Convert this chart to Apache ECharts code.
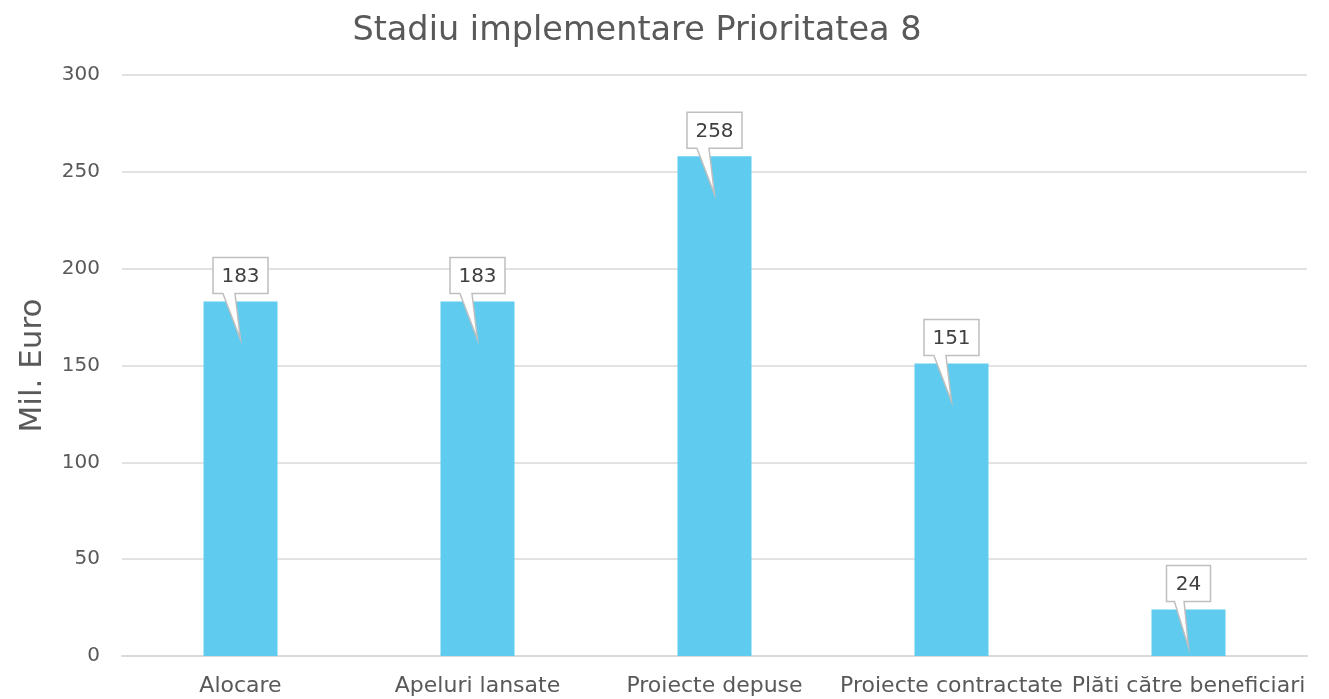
<!DOCTYPE html>
<html><head><meta charset="utf-8">
<script src="https://cdn.jsdelivr.net/npm/echarts@6/dist/echarts.min.js"></script>
<style>html,body{margin:0;padding:0;background:#fff}#c{width:1329px;height:699px}</style>
</head><body><div id="c"></div>
<script>
const categories = ['Alocare', 'Apeluri lansate', 'Proiecte depuse', 'Proiecte contractate', 'Plăti către beneficiari'];
const values = [183, 183, 258, 151, 24];
const yTicks = [0, 50, 100, 150, 200, 250, 300];

const FONT = '"DejaVu Sans", sans-serif';
const chart = echarts.init(document.getElementById('c'));
chart.setOption({
  animation: false,
  title: {
    text: 'Stadiu implementare Prioritatea 8',
    left: 632, top: 9, textAlign: 'center',
    textStyle: { fontFamily: FONT, fontSize: 33.5, fontWeight: 'normal', color: '#595959' }
  },
  grid: { left: 122, right: 22, top: 75, bottom: 43 },
  xAxis: {
    type: 'category', data: categories,
    axisTick: { show: false },
    axisLine: { lineStyle: { color: '#d9d9d9', width: 2 } },
    axisLabel: { fontFamily: FONT, fontSize: 22, color: '#595959', margin: 19, interval: 0 }
  },
  yAxis: {
    type: 'value', min: yTicks[0], max: yTicks[yTicks.length - 1], interval: 50,
    name: 'Mil. Euro', nameLocation: 'middle', nameGap: 74,
    nameTextStyle: { fontFamily: FONT, fontSize: 31, color: '#595959' },
    axisLabel: { fontFamily: FONT, fontSize: 20, color: '#595959', margin: 22 },
    splitLine: { lineStyle: { color: '#d9d9d9', width: 1.5 } },
    axisLine: { show: false }, axisTick: { show: false }
  },
  series: [
    {
      type: 'bar', data: values, barWidth: 74,
      itemStyle: { color: '#5ECBEF' }
    },
    {
      type: 'custom', data: values.map((v, i) => [i, v]), z: 10,
      renderItem: function (params, api) {
        const p = api.coord([api.value(0), api.value(1)]);
        const cx = p[0], top = p[1];
        const txt = String(api.value(1));
        const w = txt.length * 11 + 22;
        const l = cx - w / 2, r = cx + w / 2;
        const bt = top - 44, bb = top - 8;
        const pa = l + w * 0.18, pb = l + w * 0.40;
        const tipX = cx, tipY = top + 38;
        return {
          type: 'group',
          children: [
            {
              type: 'polygon',
              shape: { points: [[l, bt], [r, bt], [r, bb], [pb, bb], [tipX, tipY], [pa, bb], [l, bb]] },
              style: { fill: '#ffffff', stroke: '#bfbfbf', lineWidth: 1.5 }
            },
            {
              type: 'text',
              style: { text: txt, x: cx, y: (bt + bb) / 2 + 1, align: 'center', verticalAlign: 'middle',
                font: '20px ' + FONT, fill: '#404040' }
            }
          ]
        };
      }
    }
  ]
});
</script></body></html>
